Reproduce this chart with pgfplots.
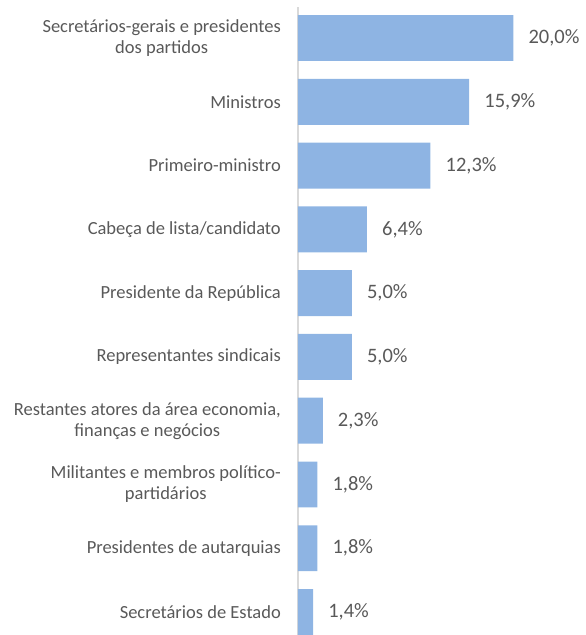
\documentclass[border=0pt]{standalone}
\usepackage{pgfplots}
\pgfplotsset{compat=1.18}
\usepackage{fontspec}
\setmainfont{Carlito}
\definecolor{barblue}{RGB}{142,180,227}
\definecolor{txtgray}{RGB}{89,89,89}
\definecolor{axgray}{RGB}{217,217,217}
\begin{document}
\begin{tikzpicture}
\useasboundingbox (0,0) rectangle (586pt,-635pt);
\begin{axis}[
  at={(298pt,-7pt)}, anchor=north west,
  scale only axis, width=280pt, height=628pt,
  xbar, bar width=0.72,
  xmin=0, xmax=26,
  ymin=-0.486, ymax=9.36,
  y dir=reverse,
  axis y line=left, axis x line=none,
  y axis line style={-, draw=axgray, line width=1.2pt},
  ytick={0,...,9},
  yticklabels={{Secretários-gerais e presidentes\\dos partidos},Ministros,Primeiro-ministro,Cabeça de lista/candidato,Presidente da República,Representantes sindicais,{Restantes atores da área economia,\\finanças e negócios},{Militantes e membros político-\\partidários},Presidentes de autarquias,Secretários de Estado},
  major tick length=0pt,
  y tick label style={align=center, inner sep=0pt, xshift=-17pt, font=\fontsize{18.5}{21}\selectfont, text=txtgray},
  /pgf/number format/assume math mode=true,
  nodes near coords={\pgfmathprintnumber[fixed, fixed zerofill, precision=1, use comma]{\pgfplotspointmeta}\%},
  every node near coord/.append style={anchor=west, inner sep=0pt, xshift=15pt, font=\fontsize{20.5}{23}\selectfont, text=txtgray},
  clip=false,
]
\addplot[fill=barblue, draw=none] coordinates {
(20.0,0) (15.9,1) (12.3,2) (6.4,3) (5.0,4) (5.0,5) (2.3,6) (1.8,7) (1.8,8) (1.4,9)};
\end{axis}
\end{tikzpicture}
\end{document}
